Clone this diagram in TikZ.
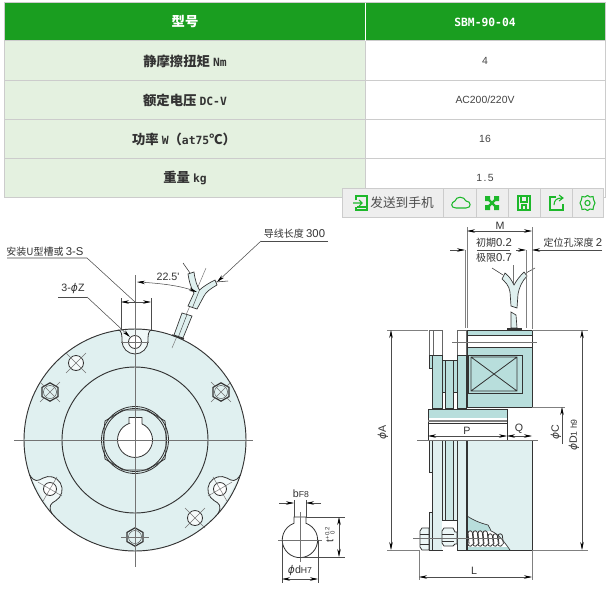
\documentclass[tikz,border=0pt]{standalone}
\usepackage{fontspec}
\usetikzlibrary{arrows.meta}
\newfontfamily\cjk{Noto Sans CJK SC}
\newfontfamily\monof{DejaVu Sans Mono}
\newfontfamily\dimf{Liberation Sans}
\newfontfamily\phif{DejaVu Sans}
\newcommand{\phisym}{{\phif\itshape ϕ}}
\definecolor{hdr}{HTML}{1A9E20}
\definecolor{rowg}{HTML}{E4F1E0}
\definecolor{tline}{HTML}{CCCCCC}
\definecolor{lite}{HTML}{E0F0F0}
\definecolor{slotc}{HTML}{F0F8F8}
\definecolor{teal}{HTML}{B8DEDC}
\definecolor{ink}{HTML}{333333}
\definecolor{icon}{HTML}{1DB82B}
\definecolor{tbar}{HTML}{EEEEEE}
\definecolor{txt}{HTML}{444444}
\tikzset{
  x=0.75pt,y=-0.75pt,
  tcell/.style={draw=tline,line width=0.75pt},
  thead/.style={font=\cjk\bfseries\fontsize{10}{12}\selectfont,text=white,inner sep=0},
  tkey/.style={font=\cjk\bfseries\fontsize{10}{12}\selectfont,text=black!80,inner sep=0},
  tval/.style={font=\dimf\fontsize{7.8}{10}\selectfont,text=txt,inner sep=0},
  ol/.style={draw=ink,line width=0.5pt},
  thin line/.style={draw=black!55,line width=0.35pt},
  gline/.style={draw=black!50,line width=0.6pt},
  dimline/.style={draw=black!70,line width=0.4pt},
  dimarrow/.style={draw=black!70,line width=0.4pt,{Stealth[length=6pt,width=2.6pt,black]}-{Stealth[length=6pt,width=2.6pt,black]}},
  endarrow/.style={draw=black!70,line width=0.4pt,-{Stealth[length=6pt,width=2.6pt,black]}},
  dimtext/.style={font=\dimf\fontsize{8}{10}\selectfont,text=black!80,inner sep=0},
  cjktext/.style={font=\cjk\fontsize{7.5}{9}\selectfont,text=black!80,inner sep=0},
  ico/.style={draw=icon,line width=0.8pt},
  toolcell/.style={draw=tline,line width=0.75pt,fill=tbar},
  sleeve/.style={fill=teal!45!white,draw=ink,line width=0.5pt},
}
\begin{document}
\begin{tikzpicture}
\useasboundingbox (0,0) rectangle (609,592);
\fill[white] (0,0) rectangle (609,592);
% ---------- table
\fill[hdr] (4,3) rectangle (605,41);
\fill[rowg] (4,41) rectangle (365,197);
\draw[tcell] (4,41) -- (605,41) (4,80) -- (605,80) (4,119) -- (605,119) (4,158) -- (605,158) (4,197) -- (605,197);
\draw[tcell] (4,3) rectangle (605,197);
\draw[tcell] (365,41) -- (365,197);
\draw[white,line width=0.5pt] (365,3) -- (365,41);
\node[thead] (h1) at (185,22) {型号};
\node[thead,font=\monof\bfseries\fontsize{8.5}{10}\selectfont] (h2) at (485,22) {SBM-90-04};
\node[tkey] (k1) at (185,61) {静摩擦扭矩 {\monof\fontsize{8.5}{10}\selectfont Nm}};
\node[tkey] (k2) at (185,100) {额定电压 {\monof\fontsize{8.5}{10}\selectfont DC-V}};
\node[tkey] (k3) at (184,139) {功率 {\monof\fontsize{8.5}{10}\selectfont W}（{\monof\fontsize{8.5}{10}\selectfont at75}℃）};
\node[tkey] (k4) at (185,178) {重量 {\monof\fontsize{8.5}{10}\selectfont kg}};
\node[tval] (v1) at (485,61) {4};
\node[tval] (v2) at (485,100) {AC200/220V};
\node[tval] (v3) at (485,139) {16};
\node[tval] (v4) at (485,178) {1\kern1pt.\kern1pt5};
% ---------- toolbar
\draw[toolcell] (342,188) rectangle (603,217);
\draw[tcell] (443,188) -- (443,217) (476,188) -- (476,217) (508,188) -- (508,217) (540,188) -- (540,217) (572,188) -- (572,217);
\node[cjktext,font=\cjk\fontsize{9.5}{11}\selectfont,text=black!70] (send) at (402,203) {发送到手机};
% send icon
\draw[ico] (356,200) -- (356,196) -- (367,196) -- (367,210) -- (356,210) -- (356,207);
\draw[ico] (353,203) -- (362,203) (359,200) -- (362,203) -- (359,206);
\draw[ico] (357,207) -- (367,207);
% cloud
\draw[ico] (456,208) .. controls (450,208) and (451,202) .. (455,201) .. controls (456,196) and (464,196) .. (466,201) .. controls (471,201) and (472,208) .. (466,208) -- cycle;
% fullscreen
\draw[icon,line width=1.8pt] (487,198) -- (497,208) (497,198) -- (487,208);
\fill[icon] (485,196) rectangle (490,201) (494,196) rectangle (499,201) (485,205) rectangle (490,210) (494,205) rectangle (499,210);
% save
\draw[ico] (518,196) rectangle (530,210);
\draw[ico] (521,196) -- (521,202) -- (527,202) -- (527,196) (522,210) -- (522,205) -- (526,205) -- (526,210);
% share
\draw[ico] (556,197) -- (550,197) -- (550,210) -- (563,210) -- (563,204);
\draw[ico] (554,205) .. controls (554,200) and (557,198) .. (562,198) (559,195) -- (563,198) -- (559,201);
% gear
\draw[ico] (587.5,203) circle (2.6);
\draw[ico] (587.5,195.5) -- (590,197) -- (593,196.5) -- (593.5,199.5) -- (595,203) -- (593.5,206.5) -- (593,209.5) -- (590,209) -- (587.5,210.5) -- (585,209) -- (582,209.5) -- (581.5,206.5) -- (580,203) -- (581.5,199.5) -- (582,196.5) -- (585,197) -- cycle;

% ---------- front view
\fill[lite] (135,440) circle (111);
\foreach \cx/\cy/\ang/\fw/\fy in {135/342/0/17/-12,220/489/-120/23/-10.6,50/489/120/23/-10.6}{
  \begin{scope}[shift={(\cx,\cy)},rotate=\ang]
   \fill[slotc] (-\fw,\fy) .. controls (-13,\fy) and (-13,-6) .. (-13,-1) arc[start angle=180,end angle=0,radius=13] .. controls (13,-6) and (13,\fy) .. (\fw,\fy) -- cycle;
   \draw[ol,line width=0.6pt] (-\fw,\fy) .. controls (-13,\fy) and (-13,-6) .. (-13,-1) arc[start angle=180,end angle=0,radius=13] .. controls (13,-6) and (13,\fy) .. (\fw,\fy);
  \end{scope}
}
\draw[ol,line width=0.7pt] (135,440) circle (111);
\draw[ol,line width=0.7pt] (135,440) circle (73);
\draw[ol,line width=0.6pt] (135,440) circle (33.5);
\draw[ol,line width=0.6pt] (135,440) circle (31.5);
\draw[ol,line width=0.6pt] (104,430) -- (105,421) -- (123,410) -- (147,410) -- (165,421) -- (166,430) -- (166,450) -- (165,459) -- (147,470) -- (123,470) -- (105,459) -- (104,450) -- cycle;
\fill[white,draw=ink,line width=0.6pt] (129,423.5) -- (129,417.5) -- (142,417.5) -- (142,423.9) arc[start angle=-66.5,end angle=250,radius=17.5] -- cycle;
% holes
\foreach \hx/\hy in {135/342,220/489,50/489}{
  \fill[white,draw=ink,line width=0.6pt] (\hx,\hy) circle (6.5);
}
\foreach \hx/\hy in {76/363,195/518}{
  \fill[white!70!lite,draw=ink,line width=0.6pt] (\hx,\hy) circle (7.5);
}
% hex bolts
\foreach \hx/\hy in {50/392,221/392,135/537}{
  \draw[ol,line width=0.9pt] (\hx,\hy) ++(-8,-4.6) -- ++(8,-4.6) -- ++(8,4.6) -- ++(0,9.2) -- ++(-8,4.6) -- ++(-8,-4.6) -- cycle;
  \draw[ol,line width=0.3pt] (\hx,\hy) circle (6.5);
}
% centre marks
\draw[thin line] (14,440) -- (253,440);
\draw[thin line,line width=0.45pt] (135,275) -- (135,567);
\foreach \hx/\hy/\ang in {135/342/0,76/363/-45,221/392/45,50/392/-45,220/489/30,50/489/-30,195/518/45,135/537/0}{
  \begin{scope}[shift={(\hx,\hy)},rotate=\ang]
   \draw[thin line] (-14,0) -- (14,0) (0,-14) -- (0,14);
  \end{scope}
}
% cable, front view
\draw[thin line] (172,348) -- (206,268);
\draw[ink,line width=1pt] (172,335) -- (184,339);
\fill[sleeve] (174,335) -- (182,313) -- (192,316) -- (183,338) -- cycle;
\draw[ol,line width=0.3pt] (178.5,336.5) -- (187,314.5);
\fill[sleeve] (188,306) -- (194,293) .. controls (190,286) and (189,280) .. (188,274) -- (194,272) .. controls (195,280) and (197,286) .. (199.5,290) .. controls (204,286) and (209,283) .. (215,280) -- (217,285) .. controls (210,289) and (206,292) .. (204,296) -- (197,309) -- cycle;
\draw[ol,line width=0.3pt] (192.5,307.5) -- (199.5,290);
\draw[ink,line width=0.4pt] (190,273) -- (183,263);
\draw[ink,line width=0.4pt] (216,282) -- (228,281);
\node[cjktext] (lenlab) at (294.5,234) {导线长度 {\dimf\fontsize{8.5}{10}\selectfont 300}};
\coordinate (lenend) at (217,282);
\draw[dimline] (328,241) -- (261,241);
\draw[endarrow] (261,241) -- (lenend);
\node[cjktext] (slotlab) at (45,252) {安装U型槽或 {\dimf\fontsize{8.5}{10}\selectfont 3-S}};
\draw[dimline] (7,258) -- (87,258) -- (135,302);
\draw[dimline] (121,298) -- (121,330) (151,298) -- (151,330);
\draw[dimarrow] (121,302) -- (151,302);
\node[dimtext] (zlab) at (73,289) {3-\phisym Z};
\coordinate (zend) at (130,337);
\draw[dimline] (58,297) -- (87,297);
\draw[endarrow] (87,297) -- (zend);
\draw[dimarrow] (137,282) .. controls (155,283) and (178,285) .. (197,292);
\node[dimtext] (anglab) at (168,277) {22.5'};

% ---------- side view
\fill[white] (429,330) rectangle (442,355);
\fill[white] (457,330) rectangle (466,355);
\draw[ol,draw=black!60] (429,330) rectangle (442,355) (433,330) -- (433,355);
\draw[ol,draw=black!60] (457,330) rectangle (466,355);
\fill[teal] (429,355) rectangle (432,368);
\draw[ol] (429,355) -- (429,368) -- (432,368);
\fill[teal,draw=ink,line width=0.5pt] (432,355) rectangle (442,408);
\fill[teal,draw=ink,line width=0.5pt] (442,360) rectangle (445,392);
\fill[teal,draw=ink,line width=0.5pt] (445,360) rectangle (453,408);
\fill[teal,draw=ink,line width=0.5pt] (453,360) rectangle (457,392);
\draw[ol] (442,392) -- (442,408) (445,392) -- (445,408) (453,392) -- (453,408) (457,392) -- (457,408);
\fill[teal,draw=ink,line width=0.5pt] (457,355) rectangle (466,408);
\draw[ol,line width=0.5pt] (429,355) -- (442,355);
\fill[teal] (467,330) rectangle (532,335);
\fill[teal] (467,347) rectangle (532,407);
\draw[ol] (467,330) rectangle (532,407) (467,335) -- (532,335) (467,347) -- (532,347);
\draw[ol,line width=0.6pt] (468,355) rectangle (522,393);
\draw[ol,line width=0.6pt] (471,357) rectangle (517,391) (471,357) -- (517,391) (471,391) -- (517,357);
% flange
\fill[teal,draw=ink,line width=0.5pt] (428,409) rectangle (507,418);
\fill[white] (428,418) rectangle (507,440);
\draw[ol] (428,418) -- (428,440) (507,418) -- (507,440) (428,423) -- (507,423);
\draw[black!50,line width=1pt] (428,421) -- (507,421);
% lower half
\fill[lite] (467,440) rectangle (532,550);
\fill[white] (467,516) .. controls (473,520) and (480,523) .. (488,525) .. controls (491,527) and (489,530) .. (491,531) .. controls (499,534) and (505,543) .. (510,550) -- (467,550) -- cycle;
\fill[teal] (467,516) .. controls (473,520) and (480,523) .. (488,525) .. controls (491,527) and (489,530) .. (491,531) -- (467,531) -- cycle;
\fill[teal] (467,547) -- (507,547) -- (510,550) -- (467,550) -- cycle;
\draw[ol] (467,516) .. controls (473,520) and (480,523) .. (488,525) .. controls (491,527) and (489,530) .. (491,531) .. controls (499,534) and (505,543) .. (510,550);
\draw[ol] (467,440) -- (532,440) (532,440) -- (532,550) (467,550) -- (532,550) (467,440) -- (467,550);
\fill[lite,draw=ink,line width=0.5pt] (429,440) rectangle (432,472);
\fill[lite,draw=ink,line width=0.5pt] (429,512) rectangle (432,550);
\fill[lite,draw=ink,line width=0.5pt] (432,440) rectangle (442,550);
\fill[lite] (442,440) rectangle (457,520);
\fill[white] (442,520) rectangle (457,550);
\fill[teal!50!lite,draw=ink,line width=0.5pt] (445,440) rectangle (453,520);
\draw[ol] (442,520) -- (457,520) (442,440) -- (442,520) (453,440) -- (453,520) (457,440) -- (457,520);
\fill[lite,draw=ink,line width=0.5pt] (457,440) rectangle (466,550);
% spring
\foreach \sx in {468,473,...,483}{
  \draw[ink,line width=0.6pt] (\sx,533) arc[start angle=180,end angle=360,radius=2.2] (\sx,544) arc[start angle=180,end angle=0,radius=2.2];
  \draw[ink,line width=0.6pt] (\sx,533) -- (\sx+1,544) (\sx+4.4,533) -- (\sx+5.4,544);
}
\foreach \sx in {488,493,498}{
  \draw[ink,line width=0.6pt] (\sx,536) arc[start angle=180,end angle=360,radius=2.2] (\sx,544) arc[start angle=180,end angle=0,radius=2.2];
  \draw[ink,line width=0.6pt] (\sx,536) -- (\sx+1,544) (\sx+4.4,536) -- (\sx+5.4,544);
}
% bolt
\fill[lite!60!white,draw=ink,line width=0.6pt] (420,531) -- (422,528) -- (429,528) -- (429,550) -- (422,550) -- (420,547) -- cycle;
\draw[ol] (420,534) -- (429,534) (420,544) -- (429,544);
\fill[lite!60!white,draw=ink,line width=0.6pt] (442,531) -- (444,528) -- (453,528) -- (455,532) -- (457,532) -- (457,544) -- (455,544) -- (453,546) -- (444,546) -- (442,543) -- cycle;
\draw[ol] (442,534) -- (454,534) (442,541) -- (454,541);
\draw[thin line] (413,538) -- (503,538);
% centre lines
\draw[thin line] (452,342) -- (537,342);
\draw[thin line] (417,440) -- (538,440);
% cable, side view
\draw[thin line] (513,265) -- (513,300);
\fill[sleeve] (511,328) -- (511,312) -- (516,315) -- (517,328) -- cycle;
\fill[sleeve] (511,306) -- (510,292) .. controls (509,285) and (505,282) .. (502,279) -- (505,273) .. controls (510,277) and (512,281) .. (514,285) .. controls (516,281) and (520,276) .. (524,272) -- (527,276) .. controls (522,281) and (519,288) .. (518,294) -- (517,308) -- cycle;
\draw[ink,line width=0.4pt] (503,275) -- (492,268) (526,273) -- (535,268);
\draw[ink,line width=1pt] (507,329) -- (522,329);
% side dimensions
\draw[gline] (467,227) -- (467,328);
\draw[gline] (465,250) -- (465,328);
\draw[gline] (532,227) -- (532,329);
\draw[gline,line width=0.4pt] (526,250) -- (526,328);
\draw[dimarrow] (467,231) -- (532,231);
\node[dimtext] (mlab) at (500,226) {M};
\node[cjktext] (l1) at (494,243) {初期{\dimf\fontsize{8.5}{10}\selectfont 0.2}};
\node[cjktext] (l2) at (494,258) {极限{\dimf\fontsize{8.5}{10}\selectfont 0.7}};
\draw[dimline] (477,250) -- (510,250);
\draw[endarrow] (450,250) -- (465,250);
\draw[endarrow] (516,250) -- (526,250);
\draw[endarrow] (602,250) -- (532,250);
\node[cjktext] (loc) at (573,243) {定位孔深度 {\dimf\fontsize{8.5}{10}\selectfont 2}};
% phi A
\draw[gline,line width=0.4pt] (387,330) -- (428,330) (387,550) -- (420,550);
\draw[dimarrow] (391,330) -- (391,550);
\node[dimtext,rotate=90] (alab) at (383,432) {\phisym A};
% phi D1
\draw[gline,line width=0.4pt] (532,330) -- (588,330) (532,550) -- (588,550);
\draw[dimarrow] (582,330) -- (582,550);
\node[dimtext,rotate=90] (dlab) at (574,435) {\phisym D{\fontsize{6.5}{8}\selectfont 1 h9}};
% phi C
\draw[gline,line width=0.4pt] (532,407) -- (565,407);
\draw[endarrow] (562,444) -- (562,407);
\node[dimtext,rotate=90] (clab) at (556,432) {\phisym C};
% P Q
\draw[dimarrow] (428,436) -- (507,436);
\draw[dimarrow] (507,436) -- (532,436);
\node[dimtext] (plab) at (467,431) {P};
\node[dimtext] (qlab) at (519,429) {Q};
\draw[gline,line width=0.4pt] (419,551) -- (419,580) (532,550) -- (532,580);
\draw[dimarrow] (419,577) -- (532,577);
\node[dimtext] (llab) at (474,571) {L};

% ---------- keyway detail
\fill[white,draw=ink,line width=0.6pt] (294,523.3) -- (294,517) -- (306,517) -- (306,523.3) arc[start angle=-70,end angle=250,radius=17.7] -- cycle;
\draw[thin line] (278,540) -- (322,540) (300,512) -- (300,562);
\draw[dimline] (294,500) -- (294,517) (306,500) -- (306,517);
\draw[endarrow] (279,503) -- (294,503);
\draw[endarrow] (321,503) -- (306,503);
\node[dimtext] (blab) at (301,494) {b{\fontsize{6.5}{8}\selectfont F8}};
\draw[dimline] (306,517) -- (345,517) (300,557) -- (345,557);
\draw[dimarrow] (339,517) -- (339,557);
\node[dimtext,rotate=90] (tlab) at (330,535) {t{\raisebox{3pt}{\fontsize{4.5}{5}\selectfont +0.2}}\llap{\raisebox{-1pt}{\fontsize{4.5}{5}\selectfont 0\ \ }}};
\draw[dimline] (282,540) -- (282,583) (318,540) -- (318,583);
\draw[dimarrow] (282,579) -- (318,579);
\node[dimtext] (dhlab) at (300,571) {\phisym d{\fontsize{6.5}{8}\selectfont H7}};
\end{tikzpicture}
\end{document}
